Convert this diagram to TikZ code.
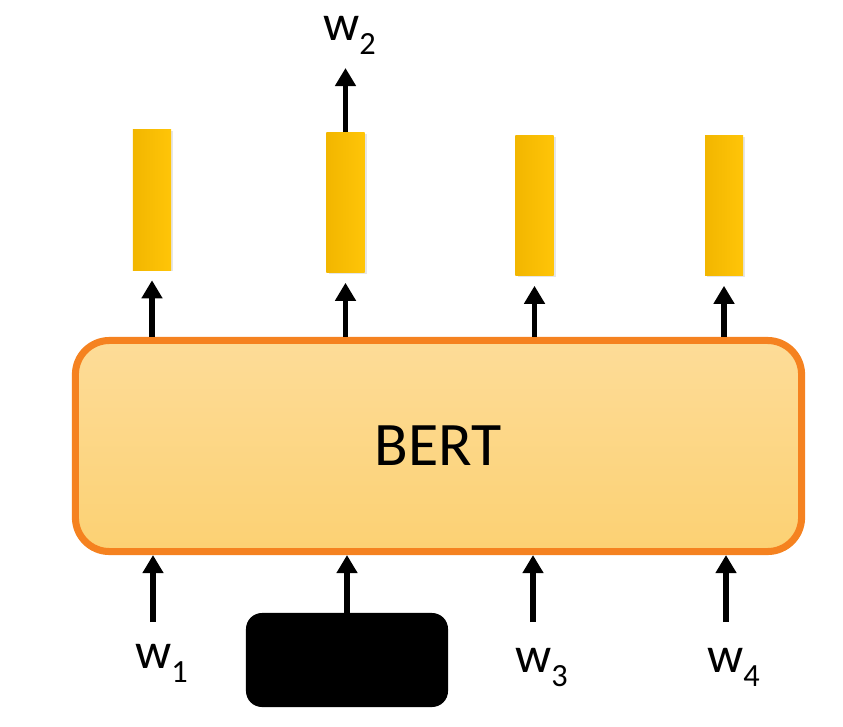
\documentclass[tikz,border=0pt]{standalone}
\usepackage{fontspec}
\setmainfont{Carlito}
\usetikzlibrary{arrows.meta}
\usetikzlibrary{shadows}
\definecolor{bertline}{HTML}{F58220}
\definecolor{berttop}{HTML}{FDDC98}
\definecolor{bertbot}{HTML}{FCD173}
\definecolor{barfill}{HTML}{FFC508}
\definecolor{bardark}{HTML}{F2B600}
\newcommand{\wlabel}[1]{w\raisebox{-10pt}{\fontsize{23}{23}\selectfont #1}}

\begin{document}
\begin{tikzpicture}[x=0.025cm,y=-0.025cm,
  vec/.style={minimum width=0.95cm,minimum height=3.5cm,inner sep=0pt,
    left color=bardark,right color=barfill,
    drop shadow={opacity=0.2,shadow xshift=1.5pt,shadow yshift=-1pt}},
  bertbox/.style={draw=bertline,line width=5pt,rounded corners=0.85cm,
    minimum width=18.15cm,minimum height=5.275cm,inner sep=0pt,
    top color=berttop,bottom color=bertbot,font=\fontsize{44}{48}\selectfont},
  maskbox/.style={fill=black,rounded corners=0.4cm,minimum width=5.05cm,
    minimum height=2.35cm,inner sep=0pt},
  arr/.style={line width=3.6pt,-{Triangle[length=0.45cm,width=0.5cm]}},
  word/.style={anchor=base west,inner sep=0pt,font=\fontsize{36}{40}\selectfont}]
\useasboundingbox (0,0) rectangle (843,726);

% encoder
\node[bertbox] (bert) at (438.5,446) {BERT};

% output vectors
\node[vec] (h1) at (152,200) {};
\node[vec] (h2) at (345.5,202.5) {};
\node[vec] (h3) at (534.5,205.5) {};
\node[vec] (h4) at (724,205.5) {};
\foreach \i in {1,...,4}
  \draw[arr,shorten >=0.25cm] (h\i |- bert.north) -- (h\i.south);

% predicted word
\coordinate (out) at (345.5,68);
\draw[arr] (h2.north) -- (out);
\node[word] (w2) at (323,40) {\wlabel{2}};

% inputs
\node[maskbox] (mask) at (347,660) {};
\draw[arr] (mask.north) -- (mask.north |- bert.south);
\coordinate (in1) at (153,622);
\coordinate (in3) at (533,622);
\coordinate (in4) at (726,622);
\foreach \c in {in1,in3,in4}
  \draw[arr] (\c) -- (\c |- bert.south);
\node[word] (w1) at (135,668) {\wlabel{1}};
\node[word] (w3) at (515,672) {\wlabel{3}};
\node[word] (w4) at (707,672) {\wlabel{4}};
\end{tikzpicture}
\end{document}
